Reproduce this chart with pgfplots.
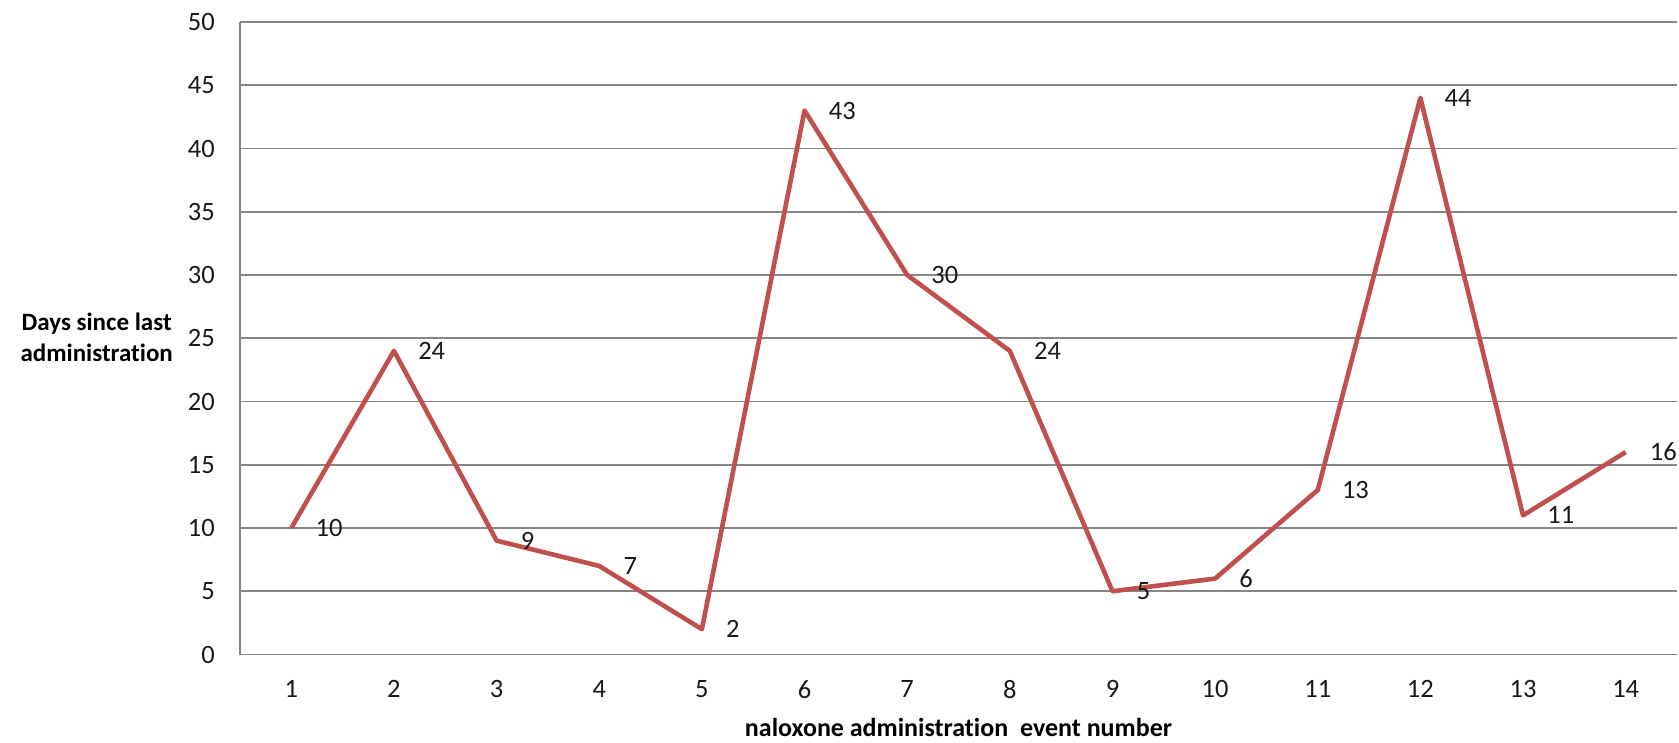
\documentclass[border=0pt]{standalone}
\usepackage{pgfplots}
\pgfplotsset{compat=1.18}
\usepackage{fontspec}
\setmainfont{Carlito}[Ligatures=NoCommon]
\definecolor{excelred}{RGB}{192,80,77}
\definecolor{gridgray}{RGB}{134,134,134}
\begin{document}
\begin{tikzpicture}
\begin{axis}[
    scale only axis,
    width=1437pt, height=632.5pt,
    xmin=0.5, xmax=14.5, ymin=0, ymax=50,
    xtick={1,...,14}, ytick={0,5,...,50},
    axis lines*=left,
    ymajorgrids,
    major grid style={gridgray, line width=1.7pt},
    axis line style={gridgray, line width=1.7pt},
    major tick length=0pt,
    tick style={draw=none},
    /pgf/number format/assume math mode=true,
    ticklabel style={font=\fontsize{26.5}{31}\selectfont, text=black!90},
    xticklabel style={anchor=north, inner sep=0pt, yshift=-26pt},
    yticklabel style={anchor=east, inner sep=0pt, xshift=-25pt},
    xlabel={naloxone administration~ event number},
    xlabel style={at={(axis description cs:0.5,0)}, anchor=base, inner sep=0pt,
        yshift=-81.5pt, font=\bfseries\fontsize{26}{31}\selectfont},
    ylabel={Days since last\\administration},
    ylabel style={rotate=-90, at={(axis description cs:0,0.502)}, anchor=east,
        inner sep=0pt, xshift=-67pt, align=center,
        font=\bfseries\fontsize{25}{31}\selectfont},
    clip=false,
]
% days since last administration, per event
\addplot[excelred, line width=4.6pt, line join=round,
    nodes near coords,
    nodes near coords style={anchor=west, inner sep=0pt, xshift=22pt,
        text=black!90, font=\fontsize{26.5}{31}\selectfont}]
    coordinates {(1,10) (2,24) (3,9) (4,7) (5,2) (6,43) (7,30)
                 (8,24) (9,5) (10,6) (11,13) (12,44) (13,11) (14,16)};
\end{axis}
\pgfresetboundingbox
\path[use as bounding box] (-240pt,-87.5pt) rectangle (1439pt,654.5pt);
\end{tikzpicture}
\end{document}
